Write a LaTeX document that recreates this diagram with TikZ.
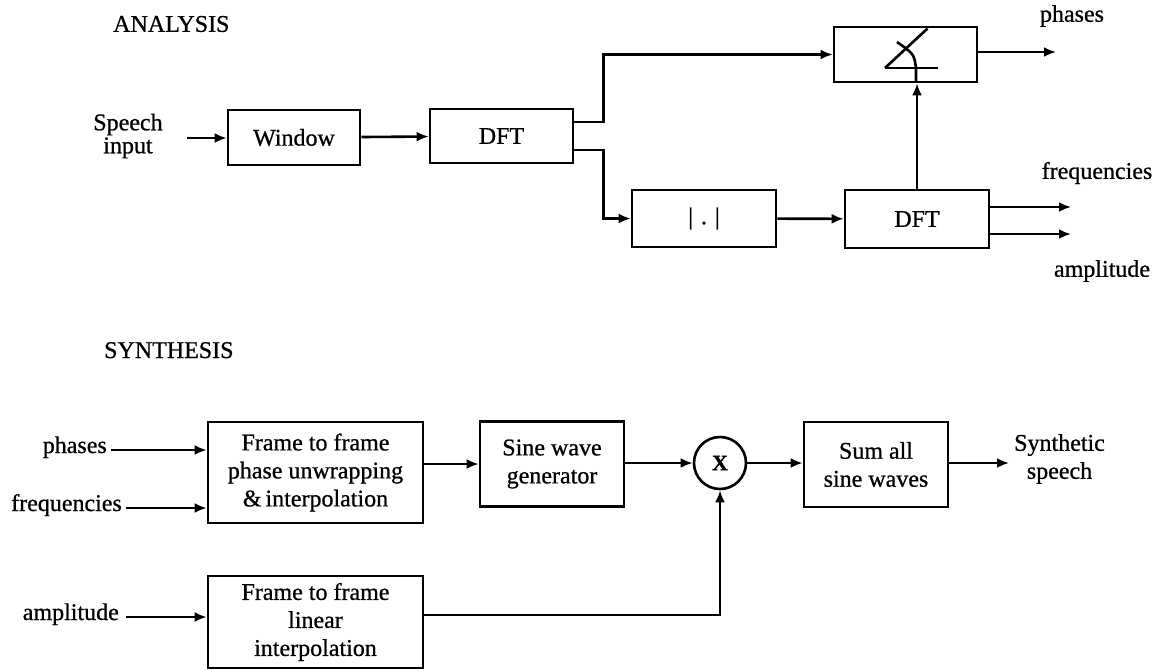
\documentclass[tikz,border=0pt]{standalone}
\usepackage{fontspec}
\setmainfont{Liberation Serif}[FakeBold=0.8]
\usetikzlibrary{arrows.meta,positioning}
\tikzset{
  blk/.style={draw, line width=2.6pt, inner sep=2pt, align=center},
  lbl/.style={inner sep=0pt, align=center},
  arr/.style={-{Latex[length=12pt,width=10pt]}, line width=2.6pt},
  wire/.style={line width=2.6pt},
}

\begin{document}
\begin{tikzpicture}[x=1pt, y=-1pt, font=\fontsize{24}{28}\selectfont]
  \useasboundingbox (0,0) rectangle (1163,670);
  % analysis chain
  \node[lbl, anchor=west] (anatitle) at (113,24) {ANALYSIS};
  \node[lbl, font=\fontsize{24}{23}\selectfont] (speech) at (128,136) {Speech\\input};
  \coordinate (sin) at (187,138);
  \node[blk, minimum width=132pt, minimum height=55pt] (win) at (294,137.5) {Window};
  \node[blk, minimum width=143pt, minimum height=54pt] (dft1) at (501.5,136) {DFT};
  \node[blk, minimum width=143pt, minimum height=55pt] (ang) at (905.5,54.5) {};
  \node[blk, minimum width=144pt, minimum height=57pt] (absb) at (704,218.5) {|\hspace{8pt}.\hspace{8pt}|};
  \node[blk, minimum width=144pt, minimum height=58pt] (dft2) at (917,219) {DFT};
  \node[lbl] (phout) at (1072,16) {phases};
  \node[lbl] (frout) at (1097,173) {frequencies};
  \node[lbl] (amout) at (1102,271) {amplitude};
  \coordinate (phend) at (1056,52);
  \coordinate (frend) at (1071,207);
  \coordinate (amend) at (1071,234);
  % angle symbol
  \begin{scope}[shift={(ang.center)}, wire]
    \draw (-20.5,13.5) -- (32.5,13.5);
    \draw (-20.5,13.5) -- (22,-26);
    \draw (-8.5,-12.5) .. controls (8.5,-0.5) .. (10.5,13.5) -- (10.5,27.5);
  \end{scope}
  \draw[arr] (sin) -- (win.west |- sin);
  \draw[arr] (win) -- (dft1);
  \draw[arr] ([yshift=14pt]dft1.east) -- ++(29,0) |- (ang.west);
  \draw[arr] ([yshift=-14pt]dft1.east) -- ++(29,0) |- (absb.west);
  \draw[arr] (absb) -- (dft2);
  \draw[arr] (dft2.north) -- (dft2.north |- ang.south);
  \draw[arr] (ang.east |- phend) -- (phend);
  \draw[arr] (dft2.east |- frend) -- (frend);
  \draw[arr] (dft2.east |- amend) -- (amend);
  % synthesis chain
  \node[lbl, anchor=base west] (syntitle) at (104,358) {SYNTHESIS};
  \node[lbl, anchor=base east] (phin) at (107,453) {phases};
  \node[lbl, anchor=base east] (frin) at (122,511) {frequencies};
  \node[lbl, anchor=base east] (amin) at (119,620) {amplitude};
  \node[blk, minimum width=215pt, minimum height=101pt] (fr1) at (315.5,472.5) {Frame to frame\\phase unwrapping\\\&\,interpolation};
  \node[blk, minimum width=215pt, minimum height=92pt] (fr2) at (315.5,622) {Frame to frame\\linear\\interpolation};
  \node[blk, minimum width=144pt, minimum height=85pt] (sine) at (552,464) {Sine wave\\generator};
  \node[draw, circle, line width=2.6pt, minimum size=52pt, inner sep=0pt, font=\fontsize{22}{24}\bfseries] (mult) at (720,463) {X};
  \node[blk, minimum width=144pt, minimum height=85pt] (sum) at (876,464.5) {Sum all\\sine waves};
  \node[lbl, anchor=west] (synout) at (1014,459) {Synthetic\\speech};
  \coordinate (synend) at (1009,463);
  \draw[arr] ([xshift=4pt,yshift=3pt]phin.base east) -- ([yshift=3pt]phin.base east -| fr1.west);
  \draw[arr] ([xshift=4pt,yshift=3pt]frin.base east) -- ([yshift=3pt]frin.base east -| fr1.west);
  \draw[arr] ([xshift=7pt,yshift=3pt]amin.base east) -- ([yshift=3pt]amin.base east -| fr2.west);
  \draw[arr] (fr1.east |- sine.west) -- (sine.west);
  \draw[arr] (sine.east |- mult.west) -- (mult.west);
  \draw[arr] (mult.east) -- (sum.west |- mult.east);
  \draw[arr] (sum.east |- synend) -- (synend);
  \draw[arr] ([yshift=7pt]fr2.east) -| (mult.south);
\end{tikzpicture}
\end{document}
